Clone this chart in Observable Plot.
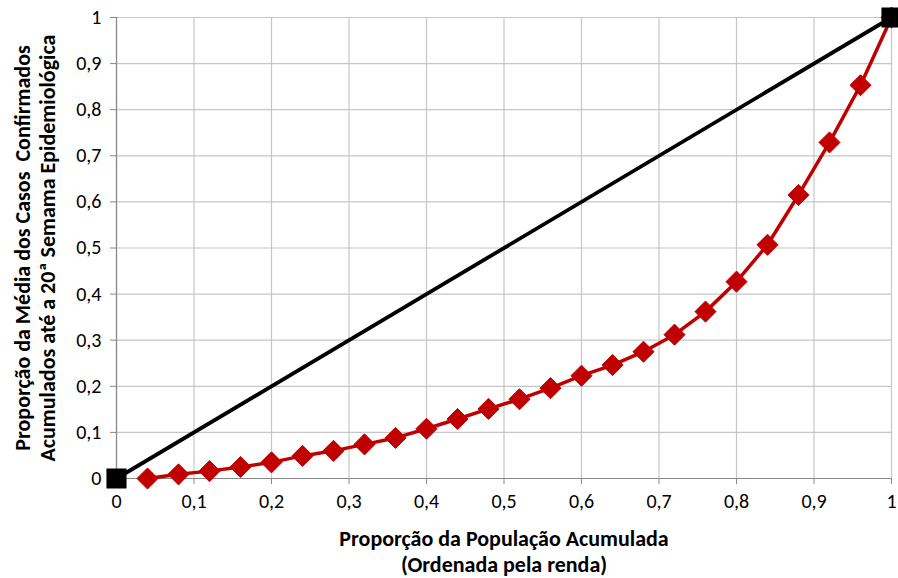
<!DOCTYPE html>
<html>
<head>
<meta charset="utf-8">
<script src="https://cdn.jsdelivr.net/npm/d3@7"></script>
<script src="https://cdn.jsdelivr.net/npm/@observablehq/plot@0.6"></script>
<style>
  html, body { margin: 0; padding: 0; background: #fff; }
  #chart { width: 898px; height: 578px; }
</style>
</head>
<body>
<div id="chart"></div>
<script>
const popShare = [0.04, 0.08, 0.12, 0.16, 0.20, 0.24, 0.28, 0.32, 0.36, 0.40, 0.44, 0.48, 0.52, 0.56, 0.60, 0.64, 0.68, 0.72, 0.76, 0.80, 0.84, 0.88, 0.92, 0.96, 1.00];
const caseShare = [0.000, 0.009, 0.016, 0.025, 0.035, 0.049, 0.060, 0.074, 0.088, 0.108, 0.129, 0.151, 0.172, 0.196, 0.223, 0.246, 0.275, 0.312, 0.362, 0.427, 0.507, 0.615, 0.729, 0.853, 1.000];
const equalityX = [0, 1];
const equalityY = [0, 1];
const tickValues = [0, 0.1, 0.2, 0.3, 0.4, 0.5, 0.6, 0.7, 0.8, 0.9, 1];
const xTitle = "Proporção da População Acumulada\n(Ordenada pela renda)";
const yTitle = "Proporção da Média dos Casos  Confirmados\nAcumulados até a 20ª Semama Epidemiológica";

const curve = popShare.map((x, i) => ({x, y: caseShare[i]}));
const equality = equalityX.map((x, i) => ({x, y: equalityY[i]}));
const fmt = d => String(d).replace(".", ",");
const font = "Carlito, Lato, 'Open Sans', sans-serif";

const chart = Plot.plot({
  width: 898,
  height: 578,
  marginLeft: 116,
  marginRight: 7,
  marginTop: 17,
  marginBottom: 100,
  style: {fontFamily: font, fontSize: "20px", color: "#000", background: "#fff"},
  x: {domain: [0, 1], ticks: tickValues, tickFormat: fmt, label: null},
  y: {domain: [0, 1], ticks: tickValues, tickFormat: fmt, label: null},
  marks: [
    Plot.gridX(tickValues, {stroke: "#c6c6c6", strokeOpacity: 1, strokeWidth: 1.2}),
    Plot.gridY(tickValues, {stroke: "#c6c6c6", strokeOpacity: 1, strokeWidth: 1.2}),
    Plot.axisX({ticks: tickValues, tickFormat: fmt, tickSize: 6, tickPadding: 9, stroke: "#888", fontSize: 20, label: null}),
    Plot.axisY({ticks: tickValues, tickFormat: fmt, tickSize: 6, tickPadding: 9, stroke: "#888", fontSize: 20, label: null}),
    Plot.ruleY([0], {stroke: "#888", strokeWidth: 1.2}),
    Plot.ruleX([0], {stroke: "#888", strokeWidth: 1.2}),
    Plot.line(equality, {x: "x", y: "y", stroke: "#000", strokeWidth: 3.8}),
    Plot.line(curve, {x: "x", y: "y", stroke: "#c00000", strokeWidth: 3.5}),
    Plot.dot(curve, {x: "x", y: "y", symbol: "diamond2", r: 9.5, fill: "#c00000", stroke: "#c00000", strokeWidth: 1}),
    Plot.dot(equality, {x: "x", y: "y", symbol: "square", r: 10.5, fill: "#000", stroke: "#000"}),
    Plot.text([xTitle], {frameAnchor: "bottom", dy: 72, textAnchor: "middle", lineAnchor: "middle", lineHeight: 1.17, fontWeight: "bold", fontSize: 22, fill: "#000"}),
    Plot.text([yTitle], {frameAnchor: "left", dx: -82, rotate: -90, textAnchor: "middle", lineAnchor: "middle", lineHeight: 1.12, fontWeight: "bold", fontSize: 22, fill: "#000"})
  ]
});
document.getElementById("chart").appendChild(chart);
</script>
</body>
</html>
